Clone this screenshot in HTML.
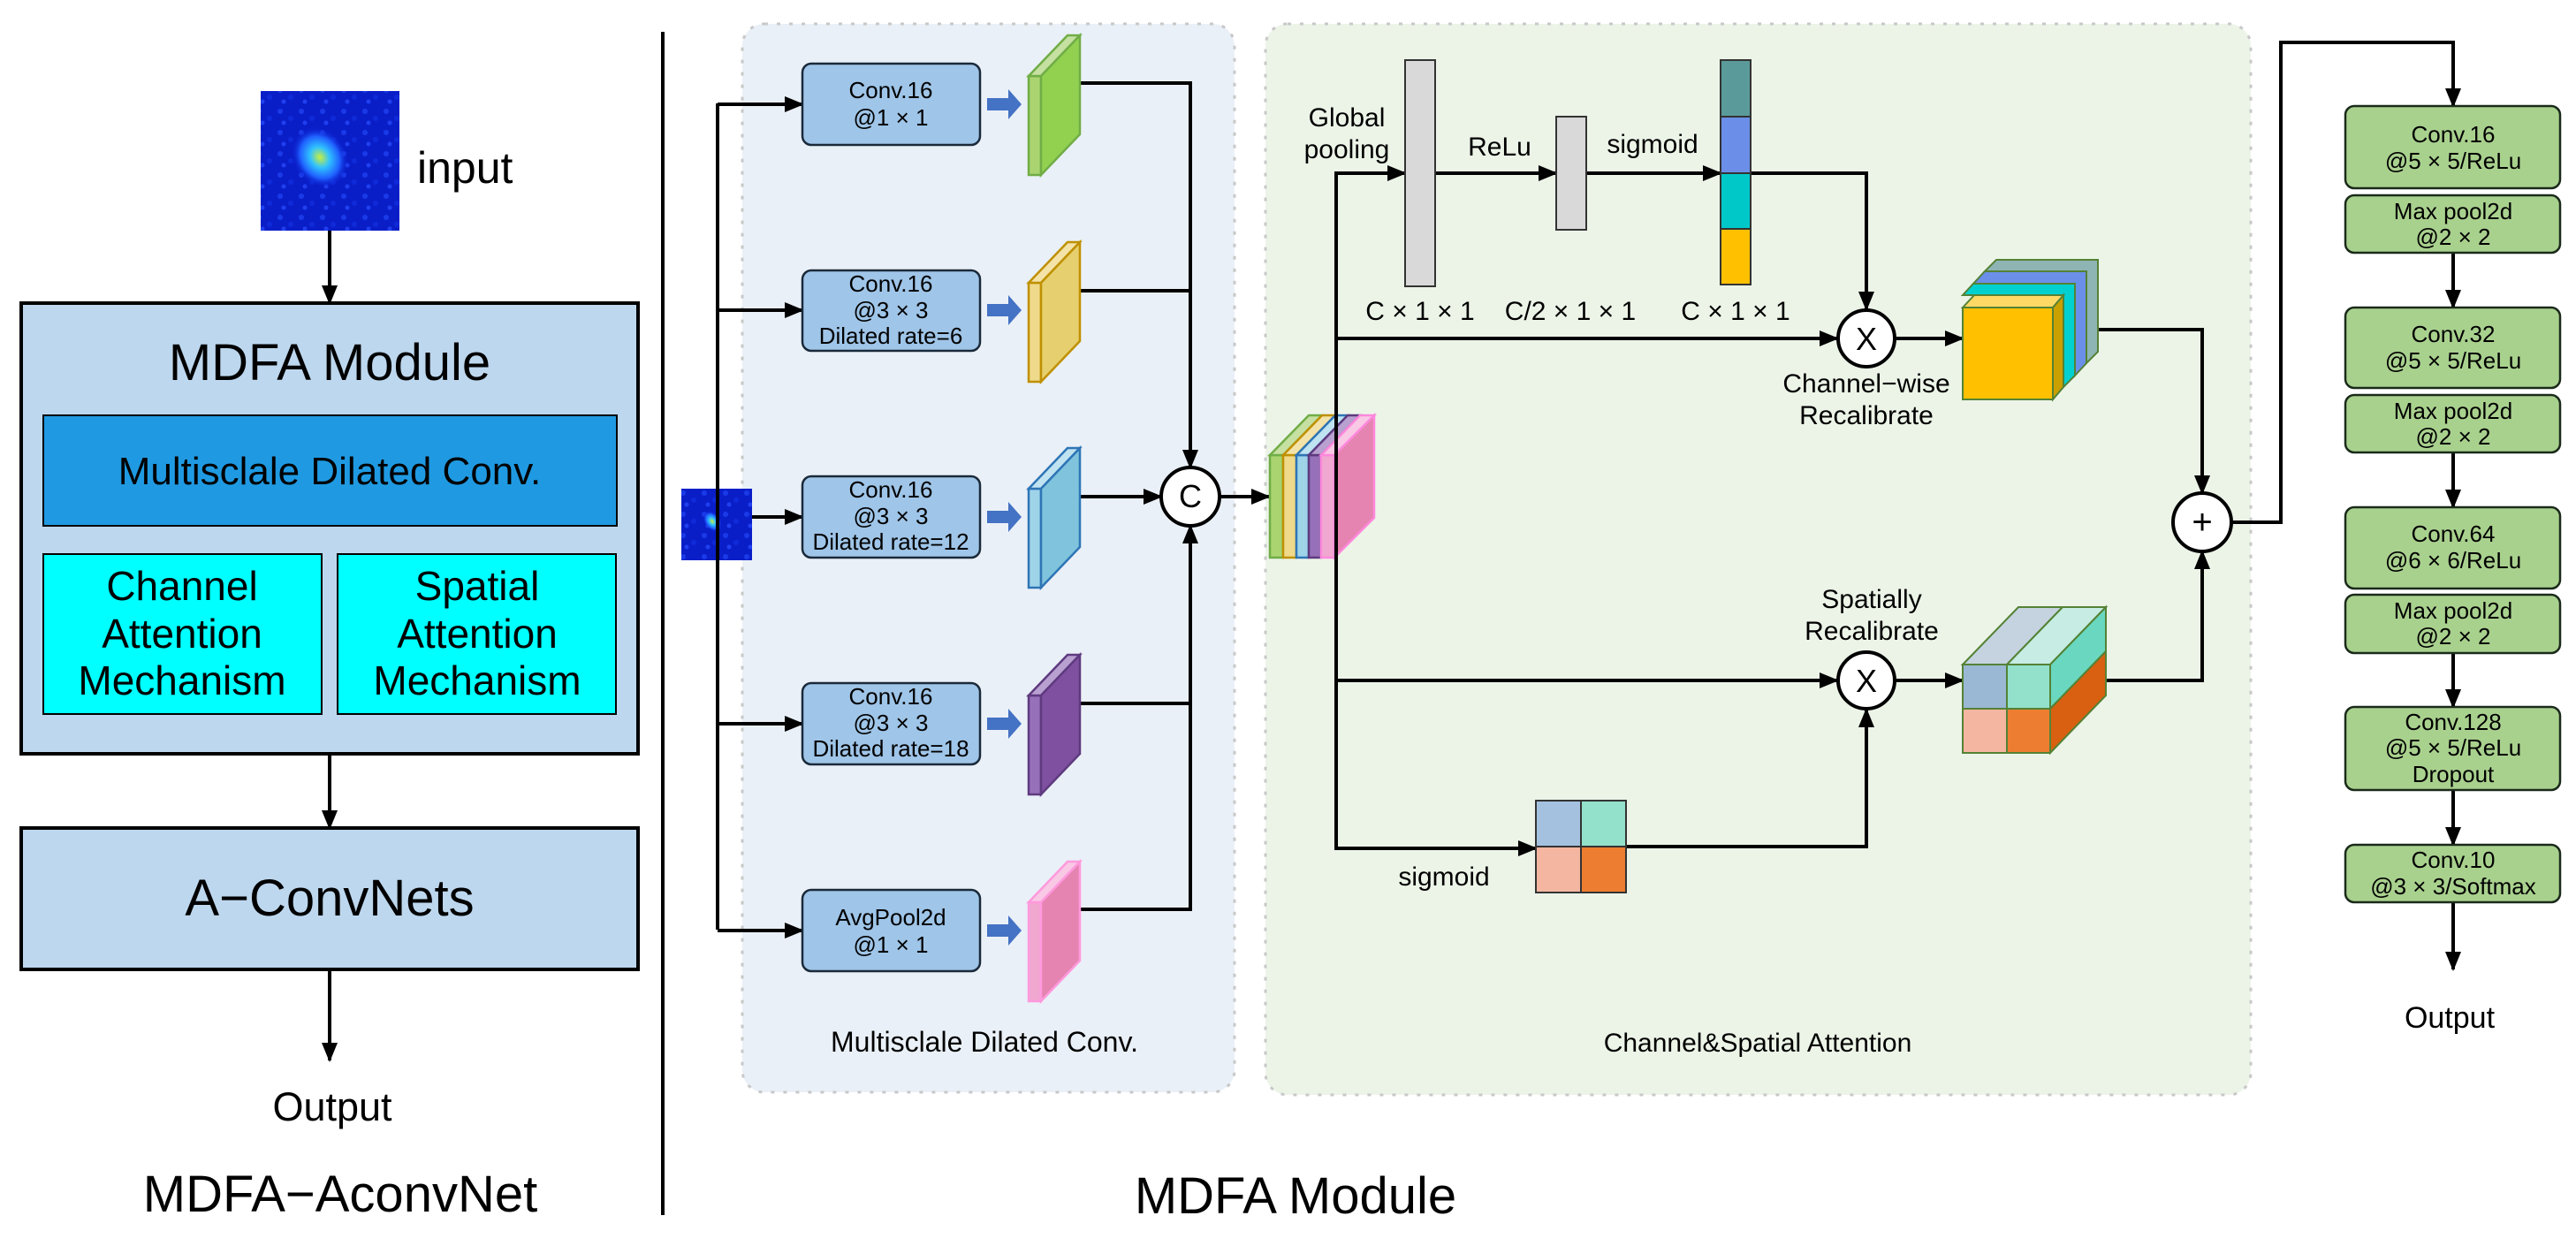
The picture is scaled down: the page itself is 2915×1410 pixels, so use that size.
<!DOCTYPE html>
<html><head><meta charset="utf-8"><style>
html,body{margin:0;padding:0;background:#fff}
svg{display:block}
text{font-family:"Liberation Sans",sans-serif;fill:#000}
</style></head><body>
<svg width="2915" height="1410" viewBox="0 0 2915 1410" xmlns="http://www.w3.org/2000/svg">
<defs>
<marker id="a" markerWidth="22" markerHeight="20" refX="20" refY="10" orient="auto" markerUnits="userSpaceOnUse"><path d="M0,1 L22,10 L0,19 z" fill="#000"/></marker>
<radialGradient id="blob" cx="0.5" cy="0.5" r="0.5"><stop offset="0" stop-color="#c8f040"/><stop offset="0.35" stop-color="#30c0ff"/><stop offset="0.7" stop-color="#1f60ff"/><stop offset="1" stop-color="#0a1ed0" stop-opacity="0"/></radialGradient>
<pattern id="noise" width="24" height="24" patternUnits="userSpaceOnUse"><rect width="24" height="24" fill="#0a1ec8"/><circle cx="5" cy="6" r="3" fill="#1a3ae8"/><circle cx="17" cy="14" r="3" fill="#0f2ad8"/><circle cx="9" cy="19" r="2.5" fill="#2040f0"/></pattern>
</defs>

<!-- LEFT PANEL -->
<rect x="295" y="103" width="157" height="158" fill="url(#noise)"/>
<ellipse cx="362" cy="178" rx="30" ry="36" transform="rotate(-35 362 178)" fill="url(#blob)"/>
<text x="472" y="207" font-size="50">input</text>
<line x1="373" y1="261" x2="373" y2="343" stroke="#000" stroke-width="4" marker-end="url(#a)"/>
<rect x="24" y="343" width="698" height="510" fill="#bdd7ee" stroke="#000" stroke-width="4"/>
<text x="373" y="430" font-size="58" text-anchor="middle">MDFA Module</text>
<rect x="49" y="470" width="649" height="125" fill="#1f9ae2" stroke="#000" stroke-width="2"/>
<text x="373" y="548" font-size="44" text-anchor="middle">Multisclale Dilated Conv.</text>
<rect x="49" y="627" width="315" height="181" fill="#00ffff" stroke="#000" stroke-width="2"/>
<rect x="382" y="627" width="315" height="181" fill="#00ffff" stroke="#000" stroke-width="2"/>
<g font-size="46" text-anchor="middle">
<text x="206" y="679">Channel</text><text x="206" y="733">Attention</text><text x="206" y="786">Mechanism</text>
<text x="540" y="679">Spatial</text><text x="540" y="733">Attention</text><text x="540" y="786">Mechanism</text>
</g>
<line x1="373" y1="853" x2="373" y2="937" stroke="#000" stroke-width="4" marker-end="url(#a)"/>
<rect x="24" y="937" width="698" height="160" fill="#bdd7ee" stroke="#000" stroke-width="4"/>
<text x="373" y="1036" font-size="58" text-anchor="middle">A−ConvNets</text>
<line x1="373" y1="1097" x2="373" y2="1200" stroke="#000" stroke-width="4" marker-end="url(#a)"/>
<text x="376" y="1268" font-size="45" text-anchor="middle">Output</text>
<text x="385" y="1371" font-size="58" text-anchor="middle">MDFA−AconvNet</text>
<line x1="750" y1="36" x2="750" y2="1375" stroke="#000" stroke-width="4"/>
<text x="1466" y="1373" font-size="58" text-anchor="middle">MDFA Module</text>

<!-- MIDDLE PANEL -->
<rect x="840" y="27" width="557" height="1209" rx="25" fill="#eaf0f7" stroke="#c8c8c8" stroke-width="3" stroke-dasharray="4,10"/>
<rect x="1432" y="27" width="1115" height="1212" rx="25" fill="#ecf4e8" stroke="#c8c8c8" stroke-width="3" stroke-dasharray="4,10"/>

<rect x="771" y="553" width="80" height="81" fill="url(#noise)"/>
<ellipse cx="806" cy="590" rx="9" ry="13" transform="rotate(-35 806 590)" fill="url(#blob)"/>
<g stroke="#000" stroke-width="4" fill="none">
<line x1="812" y1="117" x2="812" y2="1052"/>
<line x1="812" y1="118" x2="908" y2="118" marker-end="url(#a)"/>
<line x1="812" y1="351" x2="908" y2="351" marker-end="url(#a)"/>
<line x1="851" y1="585" x2="908" y2="585" marker-end="url(#a)"/>
<line x1="812" y1="819" x2="908" y2="819" marker-end="url(#a)"/>
<line x1="812" y1="1053" x2="908" y2="1053" marker-end="url(#a)"/>
<polyline points="1222,94 1347,94 1347,529" marker-end="url(#a)"/>
<line x1="1222" y1="329" x2="1347" y2="329"/>
<line x1="1222" y1="562" x2="1314" y2="562" marker-end="url(#a)"/>
<line x1="1222" y1="796" x2="1347" y2="796"/>
<polyline points="1222,1029 1347,1029 1347,595" marker-end="url(#a)"/>
<line x1="1380" y1="562" x2="1436" y2="562" marker-end="url(#a)"/>
</g>
<circle cx="1347" cy="562" r="33" fill="#fff" stroke="#000" stroke-width="4"/>
<text x="1347" y="574" font-size="36" text-anchor="middle">C</text>

<g fill="#9fc5e8" stroke="#1a2a3a" stroke-width="2.5">
<rect x="908" y="72" width="201" height="92" rx="10"/>
<rect x="908" y="306" width="201" height="91" rx="10"/>
<rect x="908" y="539" width="201" height="92" rx="10"/>
<rect x="908" y="773" width="201" height="92" rx="10"/>
<rect x="908" y="1007" width="201" height="92" rx="10"/>
</g>
<g font-size="26" text-anchor="middle">
<text x="1008" y="111">Conv.16</text><text x="1008" y="142">@1 × 1</text>
<text x="1008" y="330">Conv.16</text><text x="1008" y="360">@3 × 3</text><text x="1008" y="389">Dilated rate=6</text>
<text x="1008" y="563">Conv.16</text><text x="1008" y="593">@3 × 3</text><text x="1008" y="622">Dilated rate=12</text>
<text x="1008" y="797">Conv.16</text><text x="1008" y="827">@3 × 3</text><text x="1008" y="856">Dilated rate=18</text>
<text x="1008" y="1047">AvgPool2d</text><text x="1008" y="1078">@1 × 1</text>
</g>
<g fill="#4472c4">
<path d="M1117,111 h24 v-10 l15,17 l-15,17 v-10 h-24z"/>
<path d="M1117,344 h24 v-10 l15,17 l-15,17 v-10 h-24z"/>
<path d="M1117,578 h24 v-10 l15,17 l-15,17 v-10 h-24z"/>
<path d="M1117,812 h24 v-10 l15,17 l-15,17 v-10 h-24z"/>
<path d="M1117,1046 h24 v-10 l15,17 l-15,17 v-10 h-24z"/>
</g>
<g stroke-width="2.5">
<g stroke="#70ad47"><rect x="1164" y="86" width="14" height="112" fill="#a9d46f"/><path d="M1164,86 L1208,40 L1222,40 L1178,86z" fill="#c5e0a0"/><path d="M1178,86 L1222,40 L1222,152 L1178,198z" fill="#92d050"/></g>
<g stroke="#bf9000"><rect x="1164" y="320" width="14" height="112" fill="#efd98a"/><path d="M1164,320 L1208,274 L1222,274 L1178,320z" fill="#f4e3a8"/><path d="M1178,320 L1222,274 L1222,386 L1178,432z" fill="#e6cf6e"/></g>
<g stroke="#2e75b6"><rect x="1164" y="553" width="14" height="112" fill="#9fd3e8"/><path d="M1164,553 L1208,507 L1222,507 L1178,553z" fill="#bfe3f0"/><path d="M1178,553 L1222,507 L1222,619 L1178,665z" fill="#7fc4dc"/></g>
<g stroke="#5e3a80"><rect x="1164" y="787" width="14" height="112" fill="#9670b8"/><path d="M1164,787 L1208,741 L1222,741 L1178,787z" fill="#b8a0d0"/><path d="M1178,787 L1222,741 L1222,853 L1178,899z" fill="#8050a0"/></g>
<g stroke="#ff99dd"><rect x="1164" y="1021" width="14" height="112" fill="#f0a8d0"/><path d="M1164,1021 L1208,975 L1222,975 L1178,1021z" fill="#f8c8e4"/><path d="M1178,1021 L1222,975 L1222,1087 L1178,1133z" fill="#e584b0"/></g>
</g>
<text x="1114" y="1190" font-size="32" text-anchor="middle">Multisclale Dilated Conv.</text>

<g stroke-width="2.5">
<g stroke="#70ad47"><rect x="1437" y="515" width="15" height="116" fill="#a9d46f"/><path d="M1437,515 L1481,470 L1496,470 L1452,515z" fill="#c5e0a0"/></g>
<g stroke="#bf9000"><rect x="1452" y="515" width="15" height="116" fill="#efd98a"/><path d="M1452,515 L1496,470 L1511,470 L1467,515z" fill="#f4e3a8"/></g>
<g stroke="#2e75b6"><rect x="1467" y="515" width="14" height="116" fill="#9fd3e8"/><path d="M1467,515 L1511,470 L1525,470 L1481,515z" fill="#bfe3f0"/></g>
<g stroke="#5e3a80"><rect x="1481" y="515" width="14" height="116" fill="#9670b8"/><path d="M1481,515 L1525,470 L1539,470 L1495,515z" fill="#b8a0d0"/></g>
<g stroke="#ff88dd"><rect x="1495" y="515" width="15" height="116" fill="#f0a8d0"/><path d="M1495,515 L1539,470 L1555,470 L1510,515z" fill="#f8c8e4"/><path d="M1510,515 L1555,470 L1555,586 L1510,631z" fill="#e584b0"/></g>
</g>

<g stroke="#000" stroke-width="4" fill="none">
<line x1="1512" y1="196" x2="1512" y2="960"/>
<line x1="1510" y1="196" x2="1590" y2="196" marker-end="url(#a)"/>
<line x1="1624" y1="196" x2="1761" y2="196" marker-end="url(#a)"/>
<line x1="1795" y1="196" x2="1947" y2="196" marker-end="url(#a)"/>
<polyline points="1981,196 2112,196 2112,350" marker-end="url(#a)"/>
<line x1="1512" y1="383" x2="2079" y2="383" marker-end="url(#a)"/>
<line x1="2145" y1="383" x2="2221" y2="383" marker-end="url(#a)"/>
<polyline points="2374,373 2492,373 2492,558" marker-end="url(#a)"/>
<line x1="1512" y1="770" x2="2079" y2="770" marker-end="url(#a)"/>
<line x1="2145" y1="770" x2="2221" y2="770" marker-end="url(#a)"/>
<polyline points="2383,770 2492,770 2492,624" marker-end="url(#a)"/>
<line x1="1510" y1="960" x2="1738" y2="960" marker-end="url(#a)"/>
<polyline points="1840,958 2112,958 2112,803" marker-end="url(#a)"/>
<polyline points="2525,591 2581,591 2581,48 2776,48 2776,120" marker-end="url(#a)"/>
</g>
<rect x="1590" y="68" width="34" height="256" fill="#d9d9d9" stroke="#333" stroke-width="2"/>
<rect x="1761" y="132" width="34" height="128" fill="#d9d9d9" stroke="#333" stroke-width="2"/>
<g stroke="#333" stroke-width="2">
<rect x="1947" y="68" width="34" height="64" fill="#5b9a9a"/>
<rect x="1947" y="132" width="34" height="64" fill="#6b8fe8"/>
<rect x="1947" y="196" width="34" height="63" fill="#00c8c8"/>
<rect x="1947" y="259" width="34" height="63" fill="#ffc000"/>
</g>
<g font-size="30" text-anchor="middle">
<text x="1524" y="143">Global</text><text x="1524" y="179">pooling</text>
<text x="1697" y="176">ReLu</text>
<text x="1870" y="173">sigmoid</text>
<text x="1607" y="362">C × 1 × 1</text>
<text x="1777" y="362">C/2 × 1 × 1</text>
<text x="1964" y="362">C × 1 × 1</text>
<text x="2112" y="444">Channel−wise</text><text x="2112" y="480">Recalibrate</text>
<text x="2118" y="688">Spatially</text><text x="2118" y="724">Recalibrate</text>
<text x="1634" y="1002">sigmoid</text>
<text x="1989" y="1190">Channel&amp;Spatial Attention</text>
</g>
<circle cx="2112" cy="383" r="32" fill="#fff" stroke="#000" stroke-width="4"/>
<text x="2112" y="396" font-size="36" text-anchor="middle">X</text>
<circle cx="2112" cy="770" r="32" fill="#fff" stroke="#000" stroke-width="4"/>
<text x="2112" y="783" font-size="36" text-anchor="middle">X</text>
<circle cx="2492" cy="591" r="33" fill="#fff" stroke="#000" stroke-width="4"/>
<text x="2492" y="604" font-size="40" text-anchor="middle">+</text>

<g stroke="#548235" stroke-width="2">
<path d="M2259,294 L2374,294 L2374,398 L2361,411 L2361,307 L2246,307z" fill="#8fb4b4"/>
<path d="M2246,307 L2361,307 L2361,411 L2348,425 L2348,321 L2233,321z" fill="#6b8fe8"/>
<path d="M2233,321 L2348,321 L2348,425 L2335,438 L2335,334 L2221,334z" fill="#00d0d0"/>
<path d="M2221,348 L2234,334 L2335,334 L2323,348z" fill="#ffd966"/>
<path d="M2323,348 L2335,334 L2335,438 L2323,452z" fill="#c9a000"/>
<rect x="2221" y="348" width="102" height="104" fill="#ffc000"/>
</g>
<g stroke="#548235" stroke-width="2">
<path d="M2221,752 L2284,687 L2334,687 L2271,752z" fill="#c5d3e0"/>
<path d="M2271,752 L2334,687 L2383,687 L2320,752z" fill="#c6ece4"/>
<path d="M2320,752 L2383,687 L2383,737 L2320,802z" fill="#6ad8c0"/>
<path d="M2320,802 L2383,737 L2383,787 L2320,852z" fill="#d86010"/>
<rect x="2221" y="752" width="50" height="50" fill="#9ab7d3"/>
<rect x="2271" y="752" width="49" height="50" fill="#93e0cb"/>
<rect x="2221" y="802" width="50" height="50" fill="#f4b6a0"/>
<rect x="2271" y="802" width="49" height="50" fill="#ed7d31"/>
</g>
<g stroke="#333" stroke-width="2">
<rect x="1738" y="906" width="51" height="52" fill="#a4c2e0"/>
<rect x="1789" y="906" width="51" height="52" fill="#93e0cb"/>
<rect x="1738" y="958" width="51" height="52" fill="#f4b6a0"/>
<rect x="1789" y="958" width="51" height="52" fill="#ed7d31"/>
</g>

<g stroke="#000" stroke-width="4">
<line x1="2776" y1="286" x2="2776" y2="348" marker-end="url(#a)"/>
<line x1="2776" y1="512" x2="2776" y2="574" marker-end="url(#a)"/>
<line x1="2776" y1="739" x2="2776" y2="800" marker-end="url(#a)"/>
<line x1="2776" y1="894" x2="2776" y2="956" marker-end="url(#a)"/>
<line x1="2776" y1="1021" x2="2776" y2="1097" marker-end="url(#a)"/>
</g>
<g fill="#a9d18e" stroke="#1a2a1a" stroke-width="2.5">
<rect x="2654" y="120" width="243" height="93" rx="10"/>
<rect x="2654" y="221" width="243" height="65" rx="10"/>
<rect x="2654" y="348" width="243" height="91" rx="10"/>
<rect x="2654" y="447" width="243" height="65" rx="10"/>
<rect x="2654" y="574" width="243" height="92" rx="10"/>
<rect x="2654" y="673" width="243" height="66" rx="10"/>
<rect x="2654" y="800" width="243" height="94" rx="10"/>
<rect x="2654" y="956" width="243" height="65" rx="10"/>
</g>
<g font-size="26" text-anchor="middle">
<text x="2776" y="161">Conv.16</text><text x="2776" y="191">@5 × 5/ReLu</text>
<text x="2776" y="248">Max pool2d</text><text x="2776" y="277">@2 × 2</text>
<text x="2776" y="387">Conv.32</text><text x="2776" y="417">@5 × 5/ReLu</text>
<text x="2776" y="474">Max pool2d</text><text x="2776" y="503">@2 × 2</text>
<text x="2776" y="613">Conv.64</text><text x="2776" y="643">@6 × 6/ReLu</text>
<text x="2776" y="700">Max pool2d</text><text x="2776" y="729">@2 × 2</text>
<text x="2776" y="826">Conv.128</text><text x="2776" y="855">@5 × 5/ReLu</text><text x="2776" y="885">Dropout</text>
<text x="2776" y="982">Conv.10</text><text x="2776" y="1012">@3 × 3/Softmax</text>
</g>
<text x="2772" y="1163" font-size="34" text-anchor="middle">Output</text>
</svg>
</body></html>
